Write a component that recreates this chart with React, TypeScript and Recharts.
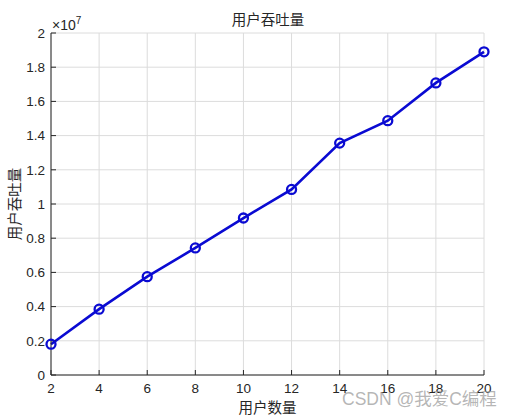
import { LineChart, Line, XAxis, YAxis, CartesianGrid, Label } from "recharts";

const userCounts = [2, 4, 6, 8, 10, 12, 14, 16, 18, 20];
const throughput = [
    1800000, 3850000, 5750000, 7430000, 9180000, 10850000, 13560000, 14870000, 17080000, 18900000,
];
const xTicks = [2, 4, 6, 8, 10, 12, 14, 16, 18, 20];
const yTicks = [0, 2000000, 4000000, 6000000, 8000000, 10000000, 12000000, 14000000, 16000000, 18000000, 20000000];

const data = userCounts.map((n, i) => ({ users: n, value: throughput[i] }));

const latin = "'Liberation Sans', Arial, sans-serif";
const cjkFont = "'Noto Sans CJK SC', sans-serif";
const tickFont = { fill: "#262626", fontSize: 13.5, fontFamily: latin };

// exponent note drawn above the y axis, like MATLAB does
const ExponentLabel = () => (
    <text x={52} y={30} textAnchor="start" fill="#262626" fontFamily={latin} fontSize={14}>
        ×10
        <tspan dy={-6} fontSize={10}>
            7
        </tspan>
    </text>
);

export default function App() {
    return (
        <div style={{ position: "absolute", left: 0, top: 0, width: 516, height: 418, background: "#fff" }}>
            <div
                style={{
                    position: "absolute",
                    left: 218,
                    width: 100,
                    top: 9,
                    textAlign: "center",
                    fontFamily: cjkFont,
                    fontSize: 14.5,
                    lineHeight: "20px",
                    color: "#262626",
                }}
            >
                用户吞吐量
            </div>
            <LineChart width={516} height={418} data={data} margin={{ top: 33, right: 32, bottom: 0, left: 0 }}>
                <CartesianGrid stroke="#dcdcdc" strokeWidth={1} />
                <XAxis
                    dataKey="users"
                    type="number"
                    domain={[2, 20]}
                    ticks={xTicks}
                    height={43}
                    axisLine={{ stroke: "#262626", strokeWidth: 1 }}
                    tickLine={{ stroke: "#262626" }}
                    tickSize={-5}
                    tickMargin={13}
                    tick={tickFont}
                    interval={0}
                >
                    <Label
                        value="用户数量"
                        position="insideBottom"
                        offset={5}
                        style={{ fill: "#262626", fontSize: 14.5, fontFamily: cjkFont }}
                    />
                </XAxis>
                <XAxis
                    xAxisId="top"
                    orientation="top"
                    type="number"
                    domain={[2, 20]}
                    ticks={xTicks}
                    height={0}
                    axisLine={{ stroke: "#262626", strokeWidth: 1 }}
                    tickLine={{ stroke: "#262626" }}
                    tickSize={-5}
                    tick={false}
                    interval={0}
                />
                <YAxis
                    type="number"
                    domain={[0, 20000000]}
                    ticks={yTicks}
                    width={51}
                    axisLine={{ stroke: "#262626", strokeWidth: 1 }}
                    tickLine={{ stroke: "#262626" }}
                    tickSize={-5}
                    tickMargin={11}
                    tick={tickFont}
                    interval={0}
                    tickFormatter={(v: number) => String(Math.round(v / 1000000) / 10)}
                >
                    <Label
                        value="用户吞吐量"
                        angle={-90}
                        position="insideLeft"
                        offset={15}
                        style={{ fill: "#262626", fontSize: 14.5, fontFamily: cjkFont, textAnchor: "middle" }}
                    />
                    <Label content={<ExponentLabel />} />
                </YAxis>
                <YAxis
                    yAxisId="right"
                    orientation="right"
                    type="number"
                    domain={[0, 20000000]}
                    ticks={yTicks}
                    width={0}
                    axisLine={{ stroke: "#262626", strokeWidth: 1 }}
                    tickLine={{ stroke: "#262626" }}
                    tickSize={-5}
                    tick={false}
                    interval={0}
                />
                <Line
                    type="linear"
                    dataKey="value"
                    stroke="#0a0ad2"
                    strokeWidth={2.6}
                    dot={{ r: 4.5, stroke: "#0a0ad2", strokeWidth: 2.3, fill: "none" }}
                    isAnimationActive={false}
                />
            </LineChart>
            <div
                style={{
                    position: "absolute",
                    left: 342,
                    top: 389,
                    fontFamily: latin + ", " + cjkFont,
                    fontSize: 17.5,
                    lineHeight: "20px",
                    color: "rgba(150,150,150,0.7)",
                    whiteSpace: "nowrap",
                }}
            >
                CSDN @我爱C编程
            </div>
        </div>
    );
}
